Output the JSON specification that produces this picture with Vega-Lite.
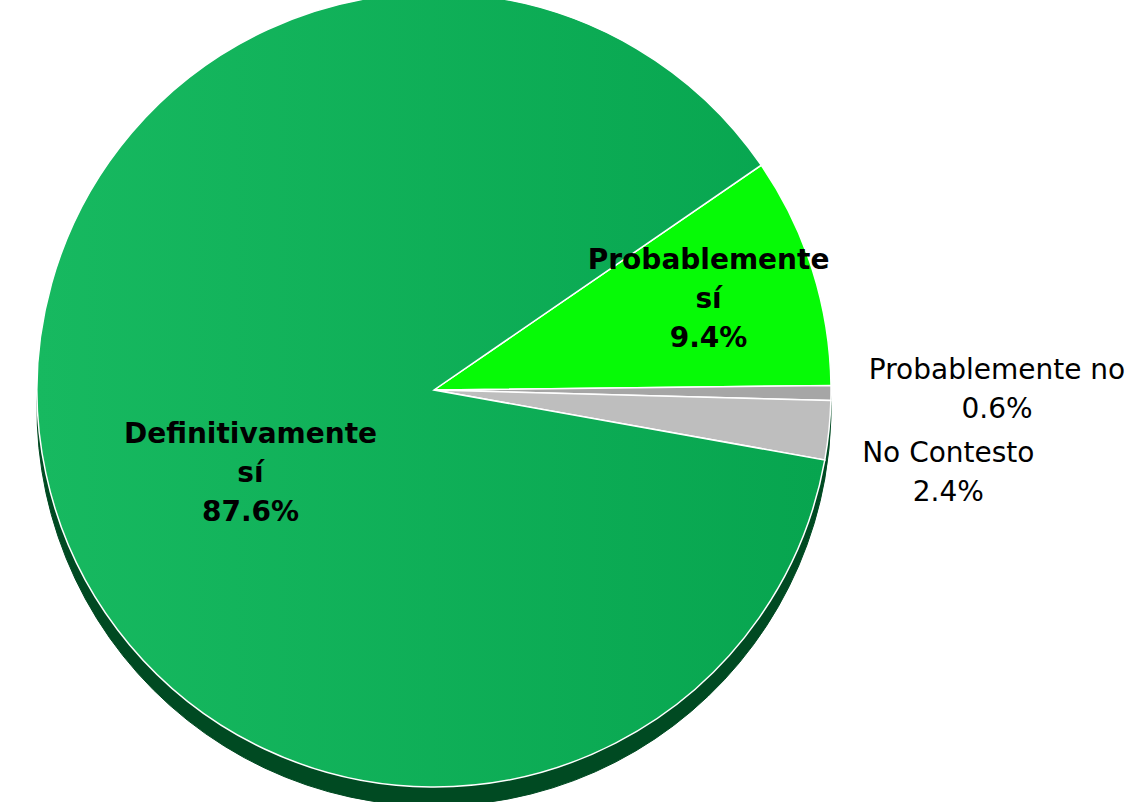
{
  "$schema": "https://vega.github.io/schema/vega-lite/v6.json",
  "width": 868,
  "height": 780,
  "autosize": {"type": "none"},
  "padding": {"left": 0, "top": 0, "right": 269, "bottom": 22},
  "background": "white",
  "config": {"view": {"stroke": null}},
  "data": {
    "values": [
      {"orden": 1, "cat": "Probablemente sí", "pct": 9.4, "label": "Probablemente\nsí\n9.4%"},
      {"orden": 2, "cat": "Probablemente no", "pct": 0.6, "label": "Probablemente no\n0.6%"},
      {"orden": 3, "cat": "No Contesto", "pct": 2.4, "label": "No Contesto\n2.4%"},
      {"orden": 4, "cat": "Definitivamente sí", "pct": 87.6, "label": "Definitivamente\nsí\n87.6%"}
    ]
  },
  "encoding": {
    "theta": {"field": "pct", "type": "quantitative", "stack": true, "scale": {"range": [0.969, 7.252]}},
    "order": {"field": "orden", "type": "quantitative"}
  },
  "layer": [
    {
      "mark": {"type": "arc", "radius": 397, "yOffset": 19, "fill": "#004a22", "stroke": "#004a22"}
    },
    {
      "mark": {"type": "arc", "radius": 397, "stroke": "white", "strokeWidth": 1.5},
      "encoding": {
        "color": {
          "condition": {
            "test": "datum.cat == 'Definitivamente sí'",
            "value": {"gradient": "linear", "x1": 0, "y1": 0, "x2": 1, "y2": 0, "stops": [{"offset": 0, "color": "#17b960"}, {"offset": 1, "color": "#07a54f"}]}
          },
          "field": "cat",
          "type": "nominal",
          "legend": null,
          "scale": {
            "domain": ["Probablemente sí", "Probablemente no", "No Contesto", "Definitivamente sí"],
            "range": ["#06fa06", "#a6a6a6", "#bebebe", "#0fb058"]
          }
        }
      }
    },
    {
      "mark": {"type": "text", "radius": 288, "dy": -42, "font": "DejaVu Sans", "fontSize": 28, "fontWeight": "bold", "lineBreak": "\n", "lineHeight": 39, "align": "center", "baseline": "middle", "color": "black"},
      "encoding": {
        "text": {"condition": {"test": "datum.cat == 'Probablemente sí'", "field": "label"}, "value": ""}
      }
    },
    {
      "mark": {"type": "text", "radius": 200, "dx": 12, "dy": 3, "font": "DejaVu Sans", "fontSize": 28, "fontWeight": "bold", "lineBreak": "\n", "lineHeight": 39, "align": "center", "baseline": "middle", "color": "black"},
      "encoding": {
        "text": {"condition": {"test": "datum.cat == 'Definitivamente sí'", "field": "label"}, "value": ""}
      }
    },
    {
      "mark": {"type": "text", "radius": 563, "dy": -23, "font": "DejaVu Sans", "fontSize": 28, "lineBreak": "\n", "lineHeight": 39, "align": "center", "baseline": "middle", "color": "black"},
      "encoding": {
        "text": {"condition": {"test": "datum.cat == 'Probablemente no'", "field": "label"}, "value": ""}
      }
    },
    {
      "mark": {"type": "text", "radius": 517, "dy": 11, "font": "DejaVu Sans", "fontSize": 28, "lineBreak": "\n", "lineHeight": 39, "align": "center", "baseline": "middle", "color": "black"},
      "encoding": {
        "text": {"condition": {"test": "datum.cat == 'No Contesto'", "field": "label"}, "value": ""}
      }
    }
  ]
}
